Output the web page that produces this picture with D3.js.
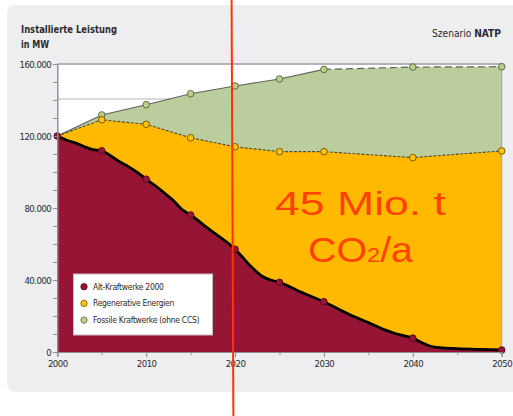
<!DOCTYPE html>
<html>
<head>
<meta charset="utf-8">
<script src="https://cdn.jsdelivr.net/npm/d3@7"></script>
<style>
  body { margin: 0; background: #ffffff; }
  svg { display: block; }
  .cond { font-family: "DejaVu Sans Condensed", "Liberation Sans Narrow", "DejaVu Sans", sans-serif; font-stretch: condensed; }
</style>
</head>
<body>
<svg id="chart" width="513" height="416"></svg>
<script>
// Installed capacity by plant type, scenario NATP (MW)
const years = [2000, 2005, 2010, 2015, 2020, 2025, 2030, 2040, 2050];
const altKraftwerke = [120000, 111800, 96000, 76100, 57100, 38700, 27900, 7700, 1100];
const regenerativ   = [0, 17200, 30500, 42900, 56900, 72600, 83400, 100300, 110600];
const fossil        = [0, 2700, 10900, 24500, 33800, 40400, 45700, 50300, 46800];

// Yearly course of the 2000 plant fleet (drawn as the thick outline)
const altYears  = [2000, 2001, 2002, 2003, 2004, 2005, 2006, 2007, 2008, 2009, 2010, 2011, 2012, 2013, 2014, 2015,
                   2017, 2020, 2022, 2023, 2024, 2025, 2027, 2030, 2033, 2035, 2037, 2038, 2040, 2041, 2042, 2043, 2045, 2048, 2050];
const altValues = [120000, 117800, 116200, 114200, 112400, 111800, 109000, 105700, 103000, 99800, 96000, 92500, 88500, 84400, 79300, 76100,
                   68500, 57100, 46500, 42200, 40000, 38700, 34200, 27900, 20500, 16300, 12000, 10300, 7700, 5200, 3200, 2400, 1900, 1400, 1100];

const seriesNames = ["Alt-Kraftwerke 2000", "Regenerative Energien", "Fossile Kraftwerke (ohne CCS)"];
const seriesKeys  = ["alt", "reg", "fos"];
const xLabelYears = [2000, 2010, 2020, 2030, 2040, 2050];
const xMinorYears = [2005, 2015, 2025, 2035, 2045];
const yLabelValues = [0, 40000, 80000, 120000, 160000];
const yMinorValues = d3.range(0, 160001, 10000);
const annotationYear = 2019.7;

const fill   = { alt: "#961535", reg: "#ffba00", fos: "#bccd9d" };
const marker = { alt: "#961535", reg: "#ffc20e", fos: "#b9d08c" };
const markerStroke = { alt: "#5c0c20", reg: "#7a5c00", fos: "#5f6e3e" };

const svg = d3.select("#chart");
const W = 513, H = 416;
const margin = { top: 64, right: 11.3, bottom: 64, left: 57.3 };

const x = d3.scaleLinear().domain([2000, 2050]).range([margin.left, W - margin.right]);
const y = d3.scaleLinear().domain([0, 160000]).range([H - margin.bottom, margin.top]);

const de = d3.formatLocale({ decimal: ",", thousands: ".", grouping: [3], currency: ["", " €"] });
const fmt = de.format(",");

// panel
svg.append("rect").attr("x", 7).attr("y", 5).attr("width", 520).attr("height", 387)
  .attr("rx", 8).attr("fill", "#eeeef1");

// plot background
svg.append("rect").attr("x", x(2000)).attr("y", y(160000))
  .attr("width", x(2050) - x(2000)).attr("height", y(0) - y(160000)).attr("fill", "#ffffff");

// gridlines
svg.append("g").selectAll("line").data([140000]).join("line")
  .attr("x1", x(2000)).attr("x2", x(2050)).attr("y1", d => y(d) - 1).attr("y2", d => y(d) - 1)
  .attr("stroke", "#cfcfd2").attr("stroke-width", 1.5);

// stacked layers
const table = years.map((yr, i) => ({ year: yr, alt: altKraftwerke[i], reg: regenerativ[i], fos: fossil[i] }));
const stack = d3.stack().keys(seriesKeys)(table);
const byKey = Object.fromEntries(stack.map(s => [s.key, s]));

const areaTop = d3.area().x(d => x(d.data.year)).y0(y(0)).y1(d => y(d[1]));
svg.append("path").datum(byKey.fos).attr("d", areaTop).attr("fill", fill.fos);
svg.append("path").datum(byKey.reg).attr("d", areaTop).attr("fill", fill.reg);

const altFine = altYears.map((yr, i) => ({ year: yr, v: altValues[i] }));
svg.append("path").datum(altFine)
  .attr("d", d3.area().x(d => x(d.year)).y0(y(0)).y1(d => y(d.v)).curve(d3.curveMonotoneX))
  .attr("fill", fill.alt);

// frame
svg.append("line").attr("x1", x(2000)).attr("x2", x(2050)).attr("y1", y(160000)).attr("y2", y(160000))
  .attr("stroke", "#b4b4b7").attr("stroke-width", 2);
svg.append("line").attr("x1", x(2050)).attr("x2", x(2050)).attr("y1", y(160000)).attr("y2", y(0))
  .attr("stroke", "#a0a0a3").attr("stroke-width", 1);

// outlines
const topLine = d3.line().x(d => x(d.data.year)).y(d => y(d[1]));
const fosPts = byKey.fos;
const splitIdx = years.indexOf(2030);
svg.append("path").datum(fosPts.slice(0, splitIdx + 1)).attr("d", topLine)
  .attr("fill", "none").attr("stroke", "#5d6356").attr("stroke-width", 1.1);
svg.append("path").datum(fosPts.slice(splitIdx)).attr("d", topLine)
  .attr("fill", "none").attr("stroke", "#5d6356").attr("stroke-width", 1.2).attr("stroke-dasharray", "7,4");
svg.append("path").datum(byKey.reg).attr("d", topLine)
  .attr("fill", "none").attr("stroke", "#4f4a3a").attr("stroke-width", 1.1).attr("stroke-dasharray", "3,1.5");
svg.append("path").datum(altFine)
  .attr("d", d3.line().x(d => x(d.year)).y(d => y(d.v)).curve(d3.curveMonotoneX))
  .attr("fill", "none").attr("stroke", "#000000").attr("stroke-width", 2.8);

// markers
for (const key of ["fos", "reg", "alt"]) {
  svg.append("g").selectAll("circle").data(byKey[key].slice(1)).join("circle")
    .attr("cx", d => x(d.data.year)).attr("cy", d => y(d[1])).attr("r", 3.3)
    .attr("fill", marker[key]).attr("stroke", markerStroke[key]).attr("stroke-width", 1);
}
svg.append("circle").attr("cx", x(2000)).attr("cy", y(altKraftwerke[0])).attr("r", 3.3)
  .attr("fill", marker.alt).attr("stroke", markerStroke.alt);

// axes
const axisColor = "#8e8e92";
svg.append("g").attr("transform", `translate(${x(2000)},0)`)
  .call(d3.axisLeft(y).tickValues(yLabelValues).tickSize(4).tickPadding(2).tickFormat(fmt));
svg.append("g").attr("transform", `translate(${x(2000)},0)`)
  .call(d3.axisLeft(y).tickValues(yMinorValues).tickSize(4).tickFormat(""));
svg.append("g").attr("transform", `translate(0,${y(0)})`)
  .call(d3.axisBottom(x).tickValues(xLabelYears).tickSize(5).tickPadding(3).tickFormat(d3.format("d")));
svg.append("g").attr("transform", `translate(0,${y(0)})`)
  .call(d3.axisBottom(x).tickValues(xMinorYears).tickSize(3).tickFormat(""));
svg.selectAll(".domain, .tick line").attr("stroke", axisColor);
svg.selectAll(".tick text").attr("class", "cond").attr("fill", "#2a2a2a").attr("font-size", 9.5)
  .attr("letter-spacing", -0.5);

// titles
const title = svg.append("text").attr("class", "cond").attr("x", 21).attr("font-size", 10.5)
  .attr("font-weight", "bold").attr("fill", "#2b2b2b");
title.append("tspan").attr("x", 21).attr("y", 33).attr("textLength", 96).attr("lengthAdjust", "spacingAndGlyphs")
  .text("Installierte Leistung");
title.append("tspan").attr("x", 21).attr("y", 47.5).attr("textLength", 28).attr("lengthAdjust", "spacingAndGlyphs")
  .text("in MW");

const scen = svg.append("text").attr("class", "cond").attr("x", 501).attr("y", 36.5)
  .attr("text-anchor", "end").attr("font-size", 10.5).attr("fill", "#2b2b2b")
  .attr("textLength", 69).attr("lengthAdjust", "spacingAndGlyphs");
scen.append("tspan").text("Szenario ");
scen.append("tspan").attr("font-weight", "bold").text("NATP");

// legend
const lg = svg.append("g");
lg.append("rect").attr("x", 73.5).attr("y", 274).attr("width", 139).attr("height", 61)
  .attr("fill", "#ffffff").attr("stroke", "#c8b8bf").attr("stroke-width", 1);
const legendRows = lg.selectAll("g").data(seriesKeys).join("g")
  .attr("transform", (d, i) => `translate(84,${286.7 + i * 16.7})`);
legendRows.append("circle").attr("r", 3.2).attr("fill", d => marker[d])
  .attr("stroke", d => markerStroke[d]).attr("stroke-width", 0.8);
legendRows.append("text").attr("class", "cond").attr("x", 9).attr("dy", "0.35em")
  .attr("font-size", 8.5).attr("letter-spacing", -0.3).attr("fill", "#2b2b2b")
  .text((d, i) => seriesNames[i]);

// annotation
svg.append("line").attr("x1", x(annotationYear) - 0.8).attr("x2", x(annotationYear) + 1)
  .attr("y1", 0).attr("y2", H).attr("stroke", "#ff3300").attr("stroke-width", 2);

const note = svg.append("g").attr("font-family", "'Liberation Sans', Arial, sans-serif").attr("fill", "#ff4200");
note.append("text").attr("x", 360.5).attr("y", 215).attr("text-anchor", "middle").attr("font-size", 34)
  .attr("textLength", 171).attr("lengthAdjust", "spacingAndGlyphs").text("45 Mio. t");
const co2 = note.append("text").attr("x", 360.5).attr("y", 261.5).attr("text-anchor", "middle").attr("font-size", 35)
  .attr("textLength", 105).attr("lengthAdjust", "spacingAndGlyphs");
co2.append("tspan").text("CO");
co2.append("tspan").attr("font-size", 21).text("2");
co2.append("tspan").text("/a");
</script>
</body>
</html>
